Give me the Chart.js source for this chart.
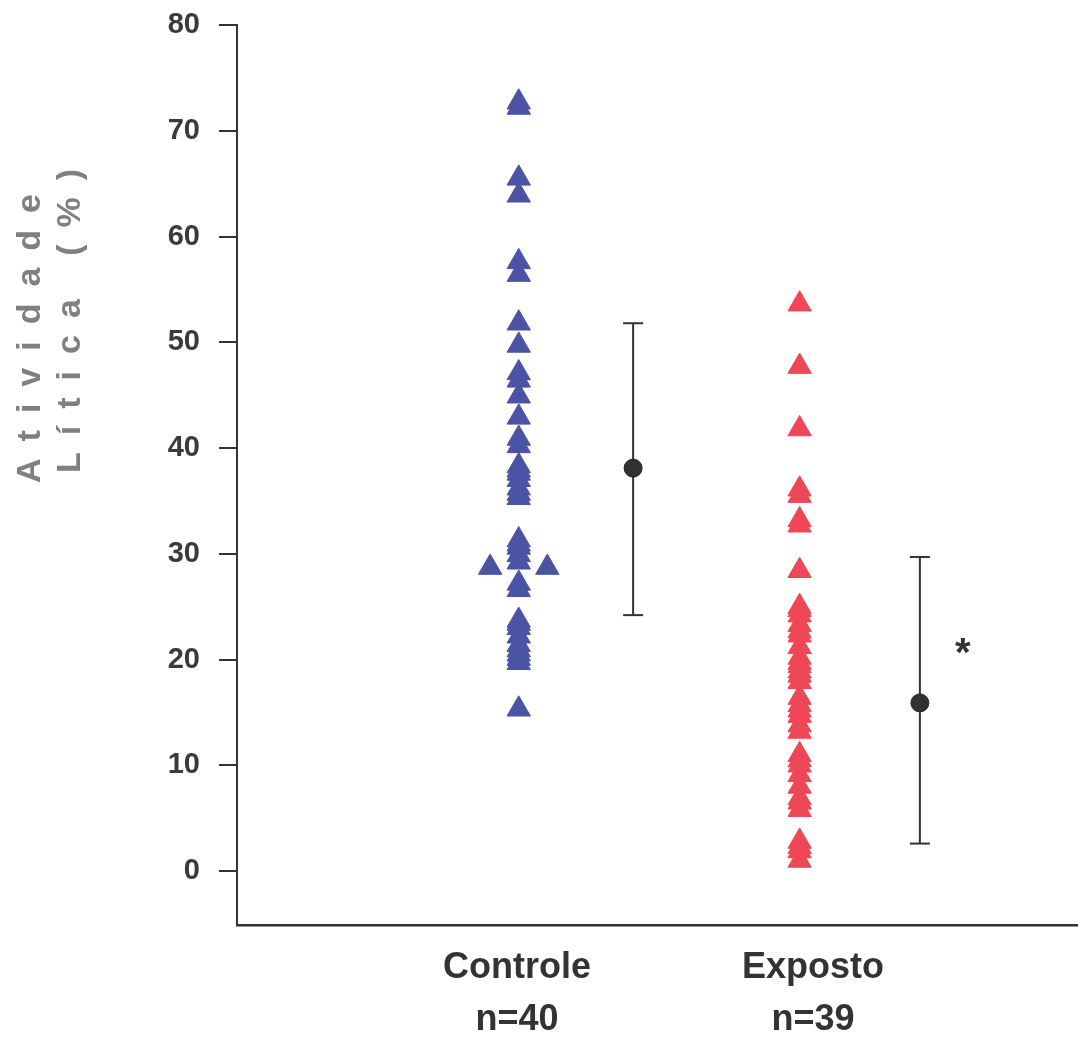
<!DOCTYPE html>
<html>
<head>
<meta charset="utf-8">
<script src="https://cdn.jsdelivr.net/npm/chart.js@4.4.0/dist/chart.umd.min.js"></script>
<style>
  html, body { margin: 0; padding: 0; background: #fff; overflow: hidden; }
  canvas { display: block; }
</style>
</head>
<body>
<canvas id="chart" width="1078" height="1038"></canvas>
<script>
// values (Atividade Lítica, %)
var controle = [72.7, 72.2, 65.5, 63.9, 57.6, 56.4, 51.8, 49.7, 47.1, 46.4, 44.9, 42.9,
  40.9, 40.2, 38.3, 37.9, 37.6, 37.0, 36.2, 35.7, 35.3, 31.3, 30.9, 30.6, 29.9, 29.2,
  27.2, 26.6, 23.7, 23.4, 23.0, 22.2, 21.4, 20.9, 20.5, 20.1, 19.7, 15.3];
var controleSide = [28.7, 28.7];   // the two points pushed left/right of the column
var exposto = [53.6, 47.7, 41.8, 36.1, 35.5, 33.2, 32.7, 28.4, 25.0, 24.7, 24.2, 23.3,
  22.7, 22.3, 21.2, 20.2, 19.7, 19.4, 18.9, 18.5, 17.9, 16.4, 15.7, 15.2, 14.7, 13.8,
  13.2, 11.0, 10.5, 10.0, 9.1, 8.0, 6.9, 6.5, 5.8, 2.8, 2.3, 1.9, 1.0];

var groupNames = ['Controle', 'Exposto'];
var groupN = ['n=40', 'n=39'];
var means = [38.1, 15.9];
var errLow = [24.2, 2.6];
var errHigh = [51.8, 29.7];
var yTicks = [0, 10, 20, 30, 40, 50, 60, 70, 80];
var yTitle = ['Atividade', 'Lítica (%)'];

// horizontal placement on a hidden 0..10 scale
var labelX = [3.33, 6.85];
var pointX = [3.35, 6.69];
var sideX = [3.01, 3.69];
var meanX = [4.71, 8.12];
var starX = 8.63, starY = 21.2;

var blue = '#4b53a4';
var red = '#ee4757';
var dark = '#333333';

function pts(x, arr) {
  return arr.map(function (v) { return { x: x, y: v }; });
}

var datasets = [];
// means on top
datasets.push({
  type: 'scatter',
  data: means.map(function (v, i) { return { x: meanX[i], y: v }; }),
  pointStyle: 'circle', pointRadius: 9,
  backgroundColor: '#2f322f', borderColor: '#222', borderWidth: 1
});
// error bars
for (var i = 0; i < 2; i++) {
  datasets.push({
    type: 'line',
    data: [{ x: meanX[i], y: errLow[i] }, { x: meanX[i], y: errHigh[i] }],
    borderColor: dark, borderWidth: 2,
    pointStyle: 'line', pointRadius: 10, pointBorderWidth: 2,
    pointBorderColor: dark, pointBackgroundColor: dark
  });
}
datasets.push({
  type: 'scatter',
  data: pts(pointX[0], controle).concat(controleSide.map(function (v, i) { return { x: sideX[i], y: v }; })),
  pointStyle: 'triangle', pointRadius: 13.5,
  backgroundColor: blue, borderColor: blue, borderWidth: 1
});
datasets.push({
  type: 'scatter',
  data: pts(pointX[1], exposto),
  pointStyle: 'triangle', pointRadius: 13.5,
  backgroundColor: red, borderColor: red, borderWidth: 1
});

var extras = {
  id: 'extras',
  afterDraw: function (chart) {
    var ctx = chart.ctx;
    var xs = chart.scales.x, ys = chart.scales.y;
    ctx.save();
    // significance mark
    ctx.fillStyle = dark;
    ctx.font = 'bold 40px "Liberation Sans", Arial, sans-serif';
    ctx.textAlign = 'center';
    ctx.textBaseline = 'middle';
    ctx.fillText('*', xs.getPixelForValue(starX), ys.getPixelForValue(starY) + 8);

    // y axis title, two rotated lines, spread letters
    ctx.fillStyle = '#808080';
    ctx.font = 'bold 34px "Liberation Sans", Arial, sans-serif';
    ctx.textAlign = 'left';
    ctx.textBaseline = 'alphabetic';
    var hasLS = ('letterSpacing' in ctx);
    if (hasLS) ctx.letterSpacing = '17px';
    var starts = [[40, 483], [80, 473]];
    for (var k = 0; k < yTitle.length; k++) {
      ctx.save();
      ctx.translate(starts[k][0], starts[k][1]);
      ctx.rotate(-Math.PI / 2);
      ctx.fillText(hasLS ? yTitle[k] : yTitle[k].split('').join(' '), 0, 0);
      ctx.restore();
    }
    ctx.restore();
  }
};

function noPad(s) {
  s.paddingTop = 0; s.paddingBottom = 0; s.paddingLeft = 0; s.paddingRight = 0;
}

new Chart(document.getElementById('chart').getContext('2d'), {
  data: { datasets: datasets },
  options: {
    responsive: false,
    animation: false,
    layout: { autoPadding: false, padding: { top: 25, right: 0, left: 0, bottom: 0 } },
    plugins: { legend: { display: false }, tooltip: { enabled: false } },
    elements: { line: { tension: 0 } },
    scales: {
      x: {
        type: 'linear', position: 'bottom', min: 0, max: 10,
        afterBuildTicks: function (s) { s.ticks = labelX.map(function (v) { return { value: v }; }); },
        afterFit: function (s) { s.height = 113; noPad(s); },
        grid: { display: false, drawTicks: false, tickLength: 0 },
        border: { display: true, color: dark, width: 2.5 },
        ticks: {
          padding: 17, maxRotation: 0, autoSkip: false,
          color: dark,
          font: { family: '"Liberation Sans", Arial, sans-serif', size: 36, weight: 'bold', lineHeight: 1.444 },
          callback: function (v, i) { return [groupNames[i], groupN[i]]; }
        }
      },
      y: {
        type: 'linear', min: -5.1, max: 80,
        afterBuildTicks: function (s) { s.ticks = yTicks.map(function (v) { return { value: v }; }); },
        afterFit: function (s) { s.width = 237; noPad(s); },
        grid: { drawOnChartArea: false, drawTicks: true, tickLength: 18, color: dark, lineWidth: 2 },
        border: { display: true, color: dark, width: 2 },
        ticks: {
          padding: 19, color: '#3a3a3a',
          font: { family: '"Liberation Sans", Arial, sans-serif', size: 29, weight: 'bold' }
        }
      }
    }
  },
  plugins: [extras]
});
</script>
</body>
</html>
